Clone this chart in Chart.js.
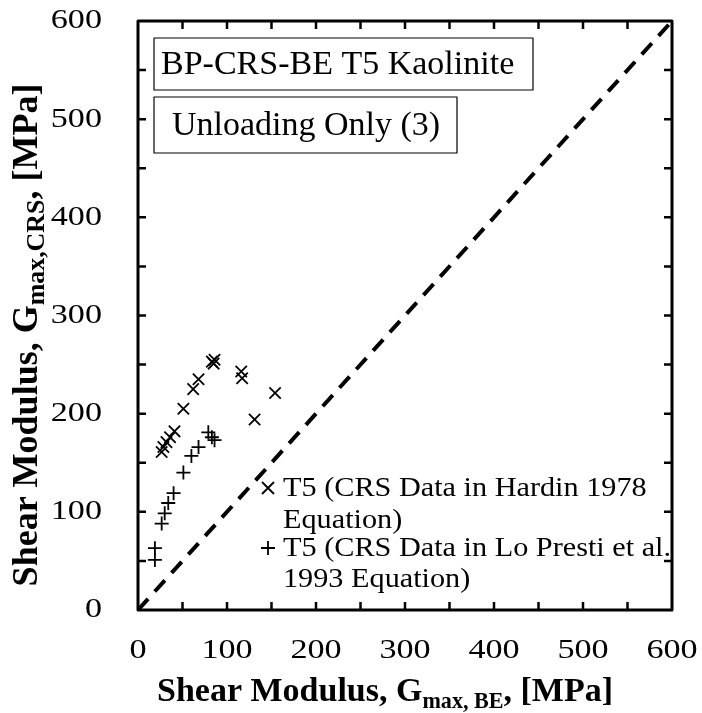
<!DOCTYPE html>
<html>
<head>
<meta charset="utf-8">
<script src="https://cdn.jsdelivr.net/npm/chart.js@4/dist/chart.umd.min.js"></script>
<style>
  html, body { margin: 0; padding: 0; background: #fff; }
  #wrap { width: 702px; height: 713px; }
  .preload { font-family: "Liberation Serif"; position: absolute; left: -999px; }
</style>
</head>
<body>
<span class="preload">0</span><span class="preload" style="font-weight:bold">0</span>
<div id="wrap"><canvas id="gChart" width="702" height="713"></canvas></div>
<script>
// --- Data ---
const hardinBE  = [26.6, 28.5, 32, 36, 41, 51, 62, 68, 83, 86, 85, 116, 117, 154, 131];
const hardinCRS = [161, 166, 171, 176, 182, 205, 225, 235, 253, 255, 251, 243, 236, 221, 194];
const lopBE  = [19, 19, 26.6, 30, 34, 40, 51, 60, 68, 79, 83, 86];
const lopCRS = [51, 63, 88, 98.5, 109, 119, 140, 157, 166, 181, 176, 173];
const lineOfEquality = [0, 600];
const axisTicks = [0, 100, 200, 300, 400, 500, 600];

const serif = '"Liberation Serif", "Times New Roman", serif';

const toPoints = (xs, ys) => xs.map((x, i) => ({ x: x, y: ys[i] }));

// --- Plugin: frame, inward ticks, tick labels, axis titles with subscripts, text boxes, legend ---
const decorations = {
    id: 'decorations',
    afterDraw(chart) {
        const ctx = chart.ctx;
        const a = chart.chartArea;
        const xs = chart.scales.x, ys = chart.scales.y;
        ctx.save();

        // frame
        ctx.strokeStyle = '#000';
        ctx.fillStyle = '#000';
        ctx.lineWidth = 3;
        ctx.lineJoin = 'round';
        ctx.strokeRect(a.left, a.top, a.right - a.left, a.bottom - a.top);

        // inward ticks every 50
        ctx.lineWidth = 2.5;
        for (let v = 50; v < 600; v += 50) {
            const px = xs.getPixelForValue(v);
            const py = ys.getPixelForValue(v);
            ctx.beginPath();
            ctx.moveTo(px, a.bottom); ctx.lineTo(px, a.bottom - 8);
            ctx.moveTo(px, a.top); ctx.lineTo(px, a.top + 8);
            ctx.moveTo(a.left, py); ctx.lineTo(a.left + 8, py);
            ctx.moveTo(a.right, py); ctx.lineTo(a.right - 8, py);
            ctx.stroke();
        }

        // stretched text helper (the source figure's text is a bit wide)
        function wideText(txt, x, y, sx, align) {
            ctx.save();
            ctx.translate(x, y);
            ctx.scale(sx, 1);
            ctx.textAlign = align;
            ctx.fillText(txt, 0, 0);
            ctx.restore();
        }

        // tick labels
        ctx.font = '28px ' + serif;
        ctx.textBaseline = 'middle';
        axisTicks.forEach(v => {
            wideText(String(v), a.left - 36, ys.getPixelForValue(v), 1.22, 'right');
            wideText(String(v), xs.getPixelForValue(v), 651, 1.22, 'center');
        });

        // helper for text with subscript
        function drawSub(parts, x, y, size, subRatio) {
            let total = 0;
            parts.forEach(p => {
                ctx.font = 'bold ' + (p.sub ? size * subRatio : size) + 'px ' + serif;
                total += ctx.measureText(p.t).width;
            });
            let cx = x - total / 2;
            parts.forEach(p => {
                ctx.font = 'bold ' + (p.sub ? size * subRatio : size) + 'px ' + serif;
                ctx.fillText(p.t, cx, p.sub ? y + size * 0.2 : y);
                cx += ctx.measureText(p.t).width;
            });
        }

        ctx.textBaseline = 'alphabetic';
        ctx.textAlign = 'left';
        drawSub([{ t: 'Shear Modulus, G' }, { t: 'max, BE', sub: true }, { t: ', [MPa]' }], 385, 701, 34, 0.65);

        ctx.save();
        ctx.translate(37, 335);
        ctx.rotate(-Math.PI / 2);
        drawSub([{ t: 'Shear Modulus, G' }, { t: 'max,CRS', sub: true }, { t: ', [MPa]' }], 0, 0, 36, 0.72);
        ctx.restore();

        // annotation boxes
        ctx.lineWidth = 1.2;
        ctx.font = '34px ' + serif;
        ctx.textBaseline = 'middle';
        ctx.strokeRect(154, 38, 379, 52);
        ctx.fillText('BP-CRS-BE T5 Kaolinite', 161, 65);
        ctx.strokeRect(154, 97, 303, 56);
        ctx.fillText('Unloading Only (3)', 172, 126);

        // legend
        ctx.font = '28px ' + serif;
        ctx.lineWidth = 1.8;
        ctx.beginPath();
        ctx.moveTo(262, 482); ctx.lineTo(274, 494);
        ctx.moveTo(274, 482); ctx.lineTo(262, 494);
        ctx.moveTo(268, 541); ctx.lineTo(268, 555);
        ctx.moveTo(261, 548); ctx.lineTo(275, 548);
        ctx.stroke();
        wideText('T5 (CRS Data in Hardin 1978', 283, 489, 1.08, 'left');
        wideText('Equation)', 283, 521, 1.08, 'left');
        wideText('T5 (CRS Data in Lo Presti et al.', 283, 549, 1.08, 'left');
        wideText('1993 Equation)', 283, 580, 1.08, 'left');

        ctx.restore();
    }
};

function buildChart() {
    const ctx = document.getElementById('gChart').getContext('2d');
    return new Chart(ctx, {
        type: 'scatter',
        data: {
            datasets: [
                {
                    label: '1:1',
                    data: toPoints(lineOfEquality, lineOfEquality),
                    showLine: true,
                    borderColor: '#000',
                    borderWidth: 4,
                    borderDash: [15, 10],
                    pointRadius: 0
                },
                {
                    label: 'T5 (CRS Data in Hardin 1978 Equation)',
                    data: toPoints(hardinBE, hardinCRS),
                    pointStyle: 'crossRot',
                    pointRadius: 8,
                    borderColor: '#000',
                    borderWidth: 1.8,
                    backgroundColor: '#000'
                },
                {
                    label: 'T5 (CRS Data in Lo Presti et al. 1993 Equation)',
                    data: toPoints(lopBE, lopCRS),
                    pointStyle: 'cross',
                    pointRadius: 7,
                    borderColor: '#000',
                    borderWidth: 1.8,
                    backgroundColor: '#000'
                }
            ]
        },
        options: {
            responsive: false,
            animation: false,
            layout: { padding: { left: 0, right: 30, top: 21, bottom: 0 } },
            plugins: {
                legend: { display: false },
                tooltip: { enabled: false }
            },
            scales: {
                x: {
                    type: 'linear',
                    min: 0, max: 600,
                    afterBuildTicks: s => { s.ticks = axisTicks.map(v => ({ value: v })); },
                    afterFit: s => { s.height = 103; },
                    grid: { display: false, drawTicks: false },
                    border: { display: false },
                    ticks: { display: false }
                },
                y: {
                    type: 'linear',
                    min: 0, max: 600,
                    afterBuildTicks: s => { s.ticks = axisTicks.map(v => ({ value: v })); },
                    afterFit: s => { s.width = 138; },
                    grid: { display: false, drawTicks: false },
                    border: { display: false },
                    ticks: { display: false }
                }
            }
        },
        plugins: [decorations]
    });
}

// make sure the serif face is ready before the canvas draws text
Promise.all([
    document.fonts.load('28px "Liberation Serif"'),
    document.fonts.load('bold 34px "Liberation Serif"')
]).then(buildChart, buildChart);
</script>
</body>
</html>
